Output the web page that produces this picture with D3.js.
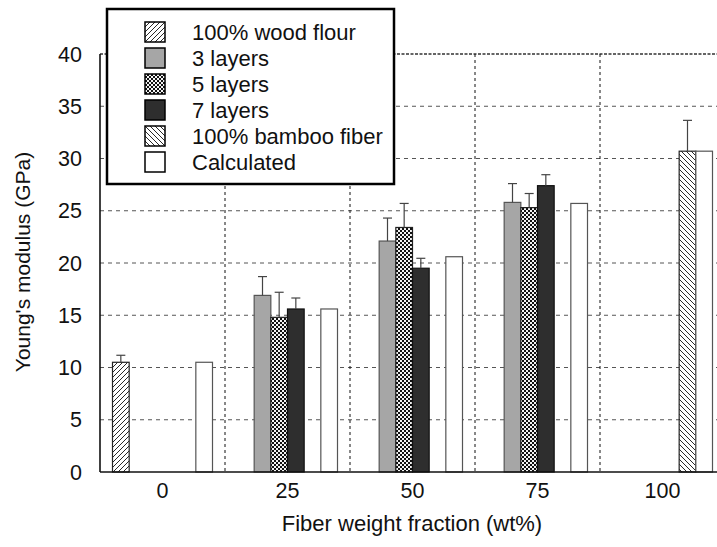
<!DOCTYPE html>
<html>
<head>
<meta charset="utf-8">
<script src="https://cdn.jsdelivr.net/npm/d3@7"></script>
<style>
  html, body { margin: 0; padding: 0; background: #fff; }
  svg { display: block; font-family: "Liberation Sans", Arial, Helvetica, sans-serif; }
</style>
</head>
<body>
<svg id="chart" width="717" height="547"></svg>
<script>
// Fiber weight fraction groups (wt%)
const categories = ["0", "25", "50", "75", "100"];

// Young's modulus (GPa) per series; null where a series has no sample
const seriesNames = ["100% wood flour", "3 layers", "5 layers", "7 layers", "100% bamboo fiber", "Calculated"];
const woodFlour   = [10.5, null, null, null, null];
const threeLayers = [null, 16.9, 22.1, 25.8, null];
const fiveLayers  = [null, 14.8, 23.4, 25.3, null];
const sevenLayers = [null, 15.6, 19.5, 27.4, null];
const bambooFiber = [null, null, null, null, 30.7];
const calculated  = [10.5, 15.6, 20.6, 25.7, 30.7];

// Standard deviations (GPa)
const woodFlourErr   = [0.67, null, null, null, null];
const threeLayersErr = [null, 1.8, 2.2, 1.8, null];
const fiveLayersErr  = [null, 2.4, 2.3, 1.35, null];
const sevenLayersErr = [null, 1.05, 0.95, 1.05, null];
const bambooFiberErr = [null, null, null, null, 2.95];
const calculatedErr  = [null, null, null, null, null];

const yTicks = [0, 5, 10, 15, 20, 25, 30, 35, 40];

const values = [woodFlour, threeLayers, fiveLayers, sevenLayers, bambooFiber, calculated];
const errors = [woodFlourErr, threeLayersErr, fiveLayersErr, sevenLayersErr, bambooFiberErr, calculatedErr];

const svg = d3.select("#chart");
const defs = svg.append("defs");

// Fill patterns
const pWood = defs.append("pattern").attr("id", "hatchFwd")
  .attr("patternUnits", "userSpaceOnUse").attr("width", 5).attr("height", 5);
pWood.append("rect").attr("width", 5).attr("height", 5).attr("fill", "#fff");
pWood.append("path").attr("d", "M-1,6 L6,-1 M-1,1 L1,-1 M4,6 L6,4")
  .attr("stroke", "#111").attr("stroke-width", 0.9);

const pBamboo = defs.append("pattern").attr("id", "hatchBack")
  .attr("patternUnits", "userSpaceOnUse").attr("width", 5).attr("height", 5);
pBamboo.append("rect").attr("width", 5).attr("height", 5).attr("fill", "#fff");
pBamboo.append("path").attr("d", "M-1,-1 L6,6 M4,-1 L6,1 M-1,4 L1,6")
  .attr("stroke", "#111").attr("stroke-width", 0.9);

const pCheck = defs.append("pattern").attr("id", "checker")
  .attr("patternUnits", "userSpaceOnUse").attr("width", 4).attr("height", 4);
pCheck.append("rect").attr("width", 4).attr("height", 4).attr("fill", "#111");
pCheck.append("rect").attr("x", 0).attr("y", 0).attr("width", 2).attr("height", 2).attr("fill", "#f4f4f4");
pCheck.append("rect").attr("x", 2).attr("y", 2).attr("width", 2).attr("height", 2).attr("fill", "#f4f4f4");

const fills   = ["url(#hatchFwd)", "#a6a6a6", "url(#checker)", "#2e2e2e", "url(#hatchBack)", "#fff"];
const strokes = ["#222", "#555", "#222", "#111", "#222", "#555"];

// Plot frame and scales
const plotLeft = 100, plotRight = 725, plotTop = 54, plotBottom = 472;
const x = d3.scaleBand().domain(categories).range([plotLeft, plotRight]).paddingInner(0).paddingOuter(0);
const xs = d3.scaleBand().domain(d3.range(seriesNames.length))
  .range([x.bandwidth() * 0.1, x.bandwidth() * 0.9]).paddingInner(0);
const y = d3.scaleLinear().domain([0, 40]).range([plotBottom, plotTop]);

// Grid
const grid = svg.append("g");
grid.selectAll("line.h").data(yTicks.filter(t => t > 0)).join("line")
  .attr("x1", plotLeft).attr("x2", plotRight)
  .attr("y1", d => y(d)).attr("y2", d => y(d))
  .attr("stroke", d => d === 40 ? "#333" : "#555")
  .attr("stroke-width", d => d === 40 ? 1.6 : 1)
  .attr("stroke-dasharray", d => d === 40 ? "3,1.5" : "4,4");
grid.selectAll("line.v").data(categories.slice(1)).join("line")
  .attr("x1", d => x(d)).attr("x2", d => x(d))
  .attr("y1", plotTop).attr("y2", plotBottom)
  .attr("stroke", "#111").attr("stroke-width", 1)
  .attr("stroke-dasharray", "3,3");

// Bars
const barData = [];
categories.forEach((c, ci) => {
  values.forEach((arr, si) => {
    if (arr[ci] != null) barData.push({ c, si, v: arr[ci], e: errors[si][ci] });
  });
});

const bars = svg.append("g");
bars.selectAll("rect").data(barData).join("rect")
  .attr("x", d => x(d.c) + xs(d.si))
  .attr("y", d => y(d.v))
  .attr("width", xs.bandwidth())
  .attr("height", d => y(0) - y(d.v))
  .attr("fill", d => fills[d.si])
  .attr("stroke", d => strokes[d.si])
  .attr("stroke-width", 1.2);

// Error bars (upper half only)
const errG = svg.append("g").attr("stroke", "#444").attr("stroke-width", 1.2);
const withErr = barData.filter(d => d.e != null);
errG.selectAll("line.stem").data(withErr).join("line")
  .attr("x1", d => x(d.c) + xs(d.si) + xs.bandwidth() / 2)
  .attr("x2", d => x(d.c) + xs(d.si) + xs.bandwidth() / 2)
  .attr("y1", d => y(d.v)).attr("y2", d => y(d.v + d.e));
errG.selectAll("line.cap").data(withErr).join("line")
  .attr("x1", d => x(d.c) + xs(d.si) + xs.bandwidth() / 2 - 4.5)
  .attr("x2", d => x(d.c) + xs(d.si) + xs.bandwidth() / 2 + 4.5)
  .attr("y1", d => y(d.v + d.e)).attr("y2", d => y(d.v + d.e));

// Axis lines
svg.append("line").attr("x1", plotLeft).attr("x2", plotLeft).attr("y1", plotTop).attr("y2", plotBottom)
  .attr("stroke", "#111").attr("stroke-width", 1.6);
svg.append("line").attr("x1", plotLeft).attr("x2", plotRight).attr("y1", plotBottom).attr("y2", plotBottom)
  .attr("stroke", "#111").attr("stroke-width", 1.6);

// Tick labels
svg.append("g").selectAll("text").data(yTicks).join("text")
  .attr("x", 82).attr("y", d => y(d)).attr("dy", "0.36em")
  .attr("text-anchor", "end").attr("font-size", 21.5).attr("fill", "#111")
  .text(d => d);
svg.append("g").selectAll("text").data(categories).join("text")
  .attr("x", d => x(d) + x.bandwidth() / 2).attr("y", 498)
  .attr("text-anchor", "middle").attr("font-size", 21.5).attr("fill", "#111")
  .text(d => d);

// Axis titles
svg.append("text").attr("x", 412).attr("y", 531)
  .attr("text-anchor", "middle").attr("font-size", 22).attr("fill", "#111")
  .text("Fiber weight fraction (wt%)");
svg.append("text")
  .attr("transform", "translate(30,262) rotate(-90)")
  .attr("text-anchor", "middle").attr("font-size", 21).attr("fill", "#111")
  .text("Young's modulus (GPa)");

// Legend
const lg = svg.append("g");
lg.append("rect").attr("x", 107).attr("y", 9).attr("width", 287).attr("height", 175)
  .attr("fill", "#fff").attr("stroke", "#000").attr("stroke-width", 2.5);
const items = lg.selectAll("g.item").data(seriesNames).join("g")
  .attr("transform", (d, i) => `translate(145,${22 + i * 26})`);
items.append("rect").attr("width", 20).attr("height", 20)
  .attr("fill", (d, i) => fills[i]).attr("stroke", "#000").attr("stroke-width", 1.5);
items.append("text").attr("x", 47).attr("y", 10).attr("dy", "0.36em")
  .attr("font-size", 22).attr("fill", "#111").text(d => d);
</script>
</body>
</html>
